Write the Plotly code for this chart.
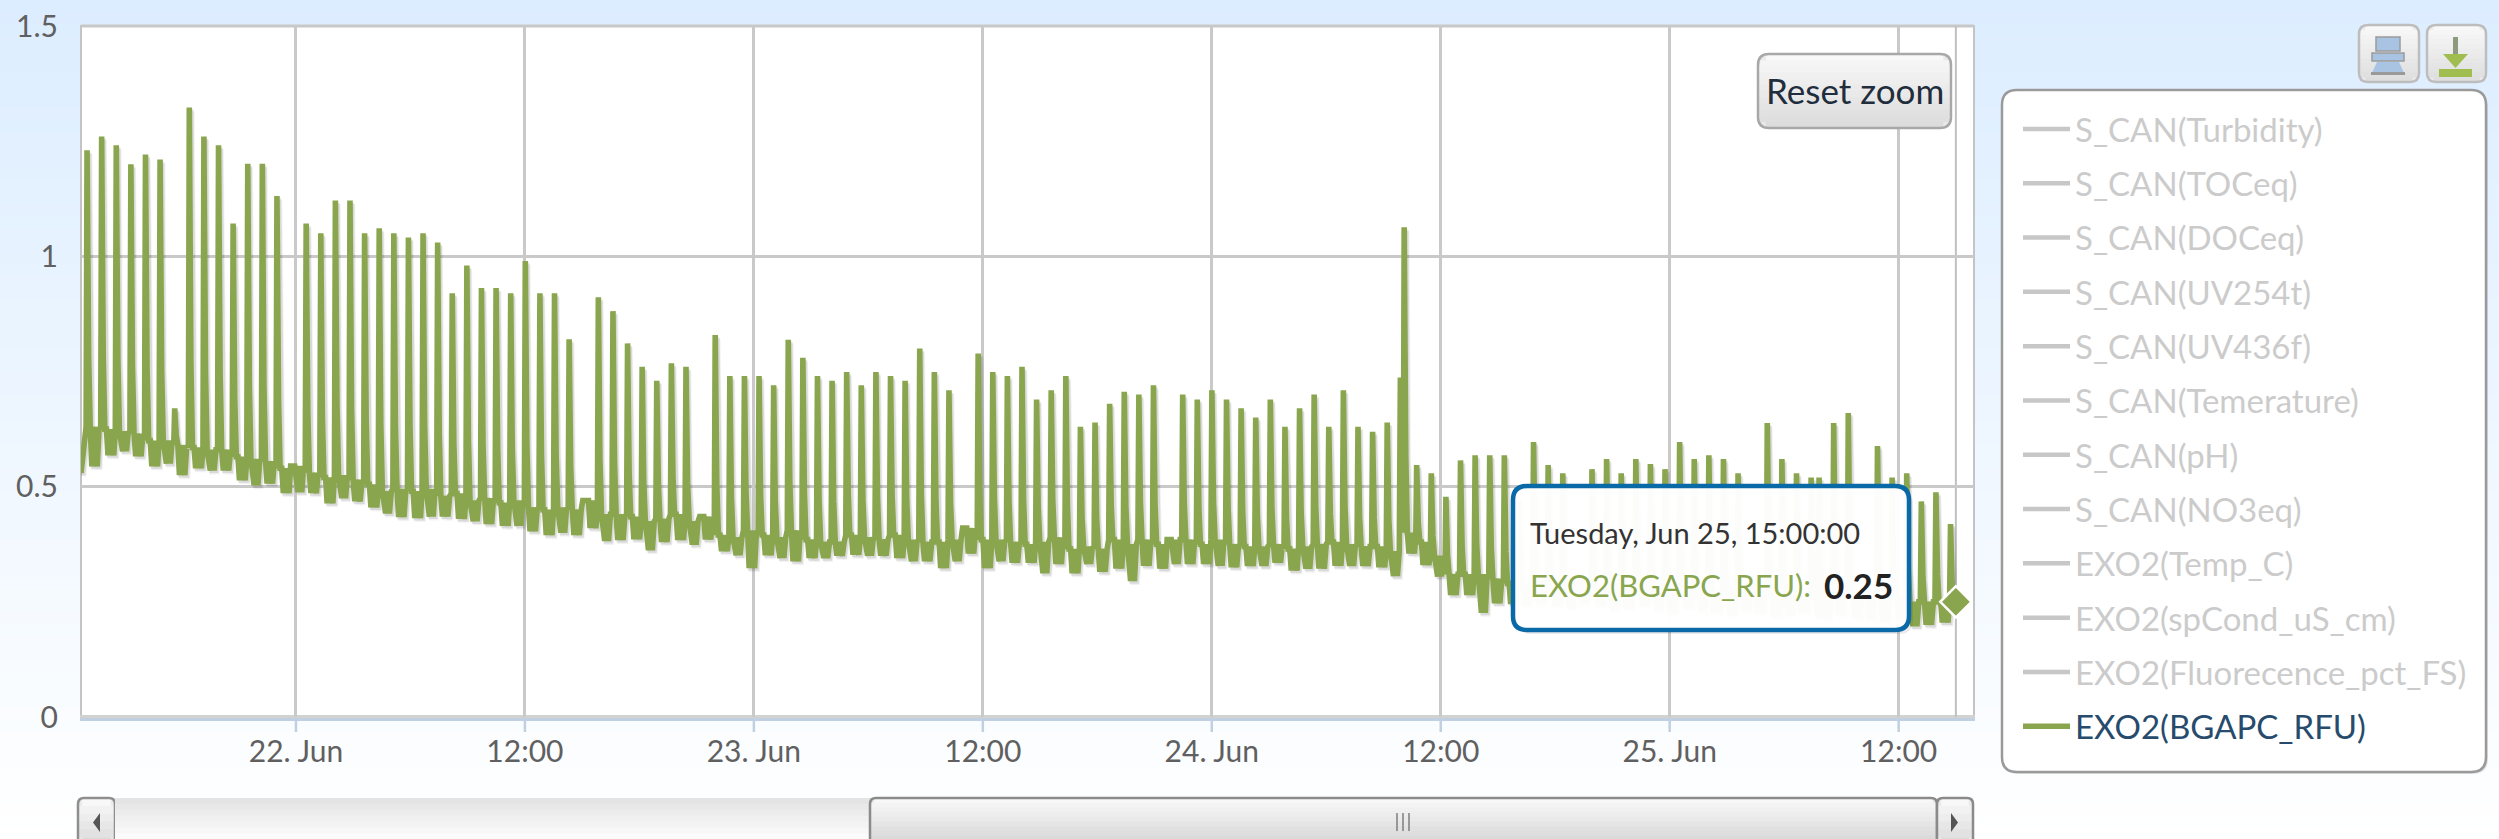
import pandas as pd
import plotly.graph_objects as go

W, H = 2499, 839
PLOT_L, PLOT_R, PLOT_T, PLOT_B = 81, 1974, 26, 717
GREEN = "#89A54E"
FONT = "Lato"

legend_names = ["S_CAN(Turbidity)", "S_CAN(TOCeq)", "S_CAN(DOCeq)", "S_CAN(UV254t)", "S_CAN(UV436f)",
                "S_CAN(Temerature)", "S_CAN(pH)", "S_CAN(NO3eq)", "EXO2(Temp_C)", "EXO2(spCond_uS_cm)",
                "EXO2(Fluorecence_pct_FS)", "EXO2(BGAPC_RFU)"]
y_ticks = [0, 0.5, 1, 1.5]
y_labels = ["0", "0.5", "1", "1.5"]
x_ticks = ["2013-06-22 00:00", "2013-06-22 12:00", "2013-06-23 00:00", "2013-06-23 12:00", "2013-06-24 00:00",
           "2013-06-24 12:00", "2013-06-25 00:00", "2013-06-25 12:00"]
x_labels = ["22. Jun", "12:00", "23. Jun", "12:00", "24. Jun", "12:00", "25. Jun", "12:00"]

# height of each roughly 46-minute spike (None = no spike in that cycle)
peaks = [1.230, 1.260, 1.241, 1.200, 1.221, 1.210, 0.670, 1.323, 1.260, 1.241, 1.071, 1.201, 1.201, 1.131, None,
         1.071, 1.050, 1.121, 1.121, 1.050, 1.061, 1.050, 1.041, 1.050, 1.030, 0.920, 0.980, 0.931, 0.931, 0.920,
         0.990, 0.920, 0.920, 0.820, 0.470, 0.911, 0.881, 0.811, 0.760, 0.730, 0.768, 0.760, None, 0.829, 0.740,
         0.740, 0.740, 0.720, 0.819, 0.780, 0.740, 0.730, 0.749, 0.720, 0.749, 0.740, 0.730, 0.800, 0.749, 0.709,
         None, 0.789, 0.749, 0.740, 0.760, 0.689, 0.709, 0.740, 0.630, 0.639, 0.680, 0.706, 0.700, 0.720, None,
         0.700, 0.689, 0.709, 0.689, 0.670, 0.650, 0.689, 0.630, 0.670, 0.700, 0.630, 0.709, 0.630, 0.619, 0.639,
         1.063, 0.547, 0.529, 0.478, 0.557, 0.568, 0.568, 0.568, 0.470, 0.597, 0.547, 0.529, None, 0.538, 0.560,
         0.529, 0.560, 0.549, 0.538, 0.597, 0.560, 0.568, 0.560, 0.529, None, 0.638, 0.560, 0.529, 0.520, 0.520,
         0.638, 0.660, None, 0.588, 0.520, 0.529, 0.468, 0.488, 0.419]
# upper edge of the noisy baseline in each cycle
base_high = [0.630, 0.625, 0.620, 0.615, 0.600, 0.600, 0.590, 0.585, 0.580, 0.580, 0.565, 0.560, 0.555, 0.540,
             0.545, 0.530, 0.520, 0.525, 0.515, 0.505, 0.490, 0.495, 0.490, 0.495, 0.480, 0.485, 0.470, 0.475,
             0.465, 0.470, 0.455, 0.450, 0.455, 0.450, 0.470, 0.440, 0.440, 0.435, 0.425, 0.430, 0.440, 0.425,
             0.435, 0.395, 0.390, 0.405, 0.395, 0.390, 0.405, 0.385, 0.380, 0.380, 0.395, 0.390, 0.385, 0.395,
             0.385, 0.380, 0.380, 0.385, 0.410, 0.385, 0.385, 0.380, 0.375, 0.380, 0.390, 0.365, 0.370, 0.365,
             0.385, 0.375, 0.385, 0.375, 0.385, 0.385, 0.375, 0.385, 0.375, 0.370, 0.370, 0.375, 0.365, 0.370,
             0.375, 0.380, 0.375, 0.370, 0.370, 0.360, 0.400, 0.380, 0.350, 0.310, 0.310, 0.310, 0.300, 0.290,
             0.290, 0.300, 0.290, 0.290, 0.300, 0.280, 0.290, 0.280, 0.290, 0.280, 0.270, 0.280, 0.270, 0.270,
             0.280, 0.270, 0.280, 0.270, 0.260, 0.270, 0.260, 0.260, 0.270, 0.260, 0.270, 0.260, 0.260, 0.250,
             0.250, 0.250, 0.250]
# lower edge of the noisy baseline in each cycle
base_low = [0.544, 0.568, 0.577, 0.566, 0.544, 0.550, 0.525, 0.540, 0.535, 0.535, 0.514, 0.503, 0.507, 0.486,
            0.488, 0.486, 0.464, 0.475, 0.468, 0.455, 0.442, 0.434, 0.432, 0.435, 0.435, 0.430, 0.425, 0.419,
            0.415, 0.415, 0.403, 0.395, 0.400, 0.395, 0.410, 0.382, 0.384, 0.386, 0.362, 0.380, 0.384, 0.374,
            0.385, 0.360, 0.351, 0.323, 0.351, 0.345, 0.338, 0.345, 0.345, 0.350, 0.352, 0.350, 0.350, 0.345,
            0.338, 0.338, 0.323, 0.338, 0.355, 0.323, 0.338, 0.335, 0.335, 0.312, 0.332, 0.312, 0.332, 0.315,
            0.322, 0.295, 0.328, 0.322, 0.332, 0.332, 0.332, 0.328, 0.325, 0.328, 0.328, 0.335, 0.318, 0.322,
            0.322, 0.328, 0.328, 0.328, 0.325, 0.306, 0.355, 0.330, 0.305, 0.265, 0.265, 0.226, 0.247, 0.245,
            0.240, 0.245, 0.240, 0.235, 0.245, 0.240, 0.230, 0.235, 0.240, 0.230, 0.225, 0.235, 0.230, 0.225,
            0.220, 0.230, 0.225, 0.215, 0.220, 0.225, 0.215, 0.210, 0.220, 0.215, 0.210, 0.205, 0.210, 0.197,
            0.200, 0.205, 0.210]
# minutes from one spike to the next (spike 0 has no predecessor)
cycle_gaps = [0.0] + [45.94] * 89 + [53.4, 39.3] + [45.94] * 27 + [25.0] + [45.94] * 9
shoulders = {90: 0.731}
first_spike = pd.Timestamp("2013-06-21 13:03")
start_time, start_value = pd.Timestamp("2013-06-21 12:44"), 0.53
hover_time, hover_value = pd.Timestamp("2013-06-25 15:00"), 0.25


def minutes(m):
    return pd.Timedelta(minutes=m)


xs, ys = [start_time], [start_value]
t = first_spike
for i, (p, hi, lo, gap) in enumerate(zip(peaks, base_high, base_low, cycle_gaps)):
    t = t + minutes(gap)
    if i in shoulders:
        xs += [t - minutes(12), t - minutes(11)]
        ys += [shoulders[i], shoulders[i]]
    top = hi if p is None else p
    xs += [t - minutes(3), t, t + minutes(5), t + minutes(10)]
    ys += [hi, top, hi + 0.25 * (top - hi), hi]
    if i < len(peaks) - 1:
        # the baseline wiggles between its two edges in a different order from cycle to cycle
        mid = (hi + lo) / 2
        order = [(lo, hi, mid, lo, hi), (hi, lo, hi, mid, lo), (mid, lo, hi, lo, hi)][i % 3]
        xs += [t + minutes(m) for m in (15, 20, 26, 32, 38)]
        ys += list(order)
xs.append(hover_time)
ys.append(hover_value)

fig = go.Figure()
for name in legend_names[:-1]:
    fig.add_trace(go.Scatter(x=[start_time], y=[0], name=f'<span style="color:#999999">{name}</span>', mode="lines",
                             visible="legendonly", legendgroup=name, line=dict(color="#909090", width=4.5)))
# drop shadow of the line
for dx, dy, op in [(5.0, 0.005, 0.10), (8.0, 0.008, 0.05)]:
    fig.add_trace(go.Scatter(x=[v + minutes(dx) for v in xs], y=[v - dy for v in ys], mode="lines",
                             showlegend=False, hoverinfo="skip",
                             line=dict(color=f"rgba(0,0,0,{op})", width=5.5)))
fig.add_trace(go.Scatter(x=xs, y=ys, name=legend_names[-1], legendgroup=legend_names[-1], mode="lines",
                         line=dict(color=GREEN, width=5.6, simplify=False), hoverinfo="skip"))
fig.add_trace(go.Scatter(x=[hover_time], y=[hover_value], mode="markers", showlegend=False, hoverinfo="skip",
                         marker=dict(symbol="diamond", size=24, color=GREEN, line=dict(color="white", width=2.5))))


def px(x):
    return x / W


def py(y):
    return 1 - y / H


def rect(x0, y0, x1, y1, fill=None, line=None, lw=0, layer="above"):
    s = dict(type="rect", xref="paper", yref="paper", x0=px(x0), x1=px(x1), y0=py(y0), y1=py(y1), layer=layer,
             line=dict(color=line or "rgba(0,0,0,0)", width=lw))
    if fill:
        s["fillcolor"] = fill
    return s


def rpath(x0, y0, x1, y1, r):
    pts = [(x0 + r, y0), (x1 - r, y0), (x1, y0, x1, y0 + r), (x1, y1 - r), (x1, y1, x1 - r, y1), (x0 + r, y1),
           (x0, y1, x0, y1 - r), (x0, y0 + r), (x0, y0, x0 + r, y0)]
    d = ""
    for k, q in enumerate(pts):
        if len(q) == 2:
            d += ("M" if k == 0 else "L") + f"{px(q[0]):.6f},{py(q[1]):.6f} "
        else:
            d += f"Q{px(q[0]):.6f},{py(q[1]):.6f} {px(q[2]):.6f},{py(q[3]):.6f} "
    return d + "Z"


def rounded(x0, y0, x1, y1, r, fill=None, line=None, lw=0, layer="above"):
    s = dict(type="path", xref="paper", yref="paper", path=rpath(x0, y0, x1, y1, r), layer=layer,
             line=dict(color=line or "rgba(0,0,0,0)", width=lw))
    if fill:
        s["fillcolor"] = fill
    return s


def poly(points, fill):
    d = "M" + " L".join(f"{px(a):.6f},{py(b):.6f}" for a, b in points) + " Z"
    return dict(type="path", xref="paper", yref="paper", path=d, fillcolor=fill, layer="above",
                line=dict(color="rgba(0,0,0,0)", width=0))


def mix(c0, c1, f):
    return "rgb(" + ",".join(str(round(a + (b - a) * f)) for a, b in zip(c0, c1)) + ")"


def gradient_box(x0, y0, x1, y1, r, c0, c1, line, lw, n=12):
    out = [rounded(x0, y0, x1, y1, r, fill=mix(c0, c1, 0.5))]
    for k in range(n):
        a = y0 + (y1 - y0) * k / n
        b = y0 + (y1 - y0) * (k + 1) / n + 0.5
        inset = r * 0.7 if k in (0, n - 1) else (r * 0.2 if k in (1, n - 2) else 0)
        out.append(rect(x0 + inset, a, x1 - inset, b, fill=mix(c0, c1, k / (n - 1))))
    out.append(rounded(x0, y0, x1, y1, r, line=line, lw=lw))
    return out


shapes = []
# page gradient
steps = 70
for k in range(steps):
    shapes.append(rect(0, H * k / steps, W, H * (k + 1) / steps + 1,
                       fill=mix((220, 237, 255), (255, 255, 255), k / (steps - 1)), layer="below"))
shapes.append(rect(PLOT_L, PLOT_T, PLOT_R, PLOT_B, fill="white", layer="below"))
# plot frame
shapes.append(rect(PLOT_L, PLOT_T, PLOT_R, PLOT_B, line="#C4C4C4", lw=2, layer="between"))
shapes.append(rect(PLOT_L, PLOT_T - 1.5, PLOT_R, PLOT_T + 1.5, fill="#C8C8C8", layer="between"))
shapes.append(rect(PLOT_L - 1, PLOT_B - 2, PLOT_R + 1, PLOT_B + 1, fill="#D2D2D2", layer="between"))
shapes.append(rect(PLOT_L - 1, PLOT_B + 1, PLOT_R + 1, PLOT_B + 4, fill="#C0D0E0", layer="between"))
# crosshair at the hovered time
shapes.append(dict(type="line", xref="x", yref="paper", x0=hover_time, x1=hover_time, y0=py(PLOT_B), y1=py(PLOT_T),
                   layer="between", line=dict(color="#C0C0C0", width=2)))
# tick marks
for tv in x_ticks:
    shapes.append(dict(type="line", xref="x", yref="paper", x0=tv, x1=tv, y0=py(PLOT_B + 3), y1=py(732),
                       layer="between", line=dict(color="#C0D0E0", width=2.5)))

# tooltip
shapes.append(rounded(1517, 490, 1913, 634, 14, fill="rgba(0,0,0,0.08)"))
shapes.append(rounded(1513, 486, 1909, 630, 14, fill="rgba(255,255,255,0.98)", line="#0A6AA8", lw=4.5))

# reset button
shapes += gradient_box(1758, 54, 1951, 128, 11, (248, 248, 248), (220, 220, 220), "#A8A8A8", 2.5)

# legend box
shapes.append(rounded(2003, 92, 2488, 774, 15, fill="rgba(0,0,0,0.10)", layer="below"))
shapes.append(rounded(2002, 90, 2486, 772, 15, fill="white", line="#9A9A9A", lw=2.5, layer="below"))

# print and export buttons
shapes += gradient_box(2359, 25, 2419, 82, 9, (248, 248, 248), (222, 222, 222), "#BDBDBD", 2.5)
shapes += gradient_box(2427, 25, 2486, 82, 9, (248, 248, 248), (222, 222, 222), "#BDBDBD", 2.5)
shapes.append(rect(2376, 37, 2400, 51, fill="#A9C4E2", line="#9A9A9A", lw=1.5))
shapes.append(rect(2372, 53, 2404, 61, fill="#A9C4E2", line="#9A9A9A", lw=1.5))
shapes.append(poly([(2377, 62), (2399, 62), (2405, 75), (2371, 75)], "#A9C4E2"))
shapes.append(rect(2371, 72, 2405, 75, fill="#9A9A9A"))
shapes.append(rect(2453, 37, 2458, 56, fill="#8E9A7E"))
shapes.append(poly([(2443, 54), (2468, 54), (2455.5, 68)], "#9FBE4F"))
shapes.append(rect(2439, 69, 2472, 77, fill="#9FBE4F"))

# scrollbar
shapes += gradient_box(78, 798, 115, 845, 6, (248, 248, 248), (220, 220, 220), "#8E8E8E", 2.5, n=6)
shapes += gradient_box(115, 798, 871, 845, 0, (228, 228, 228), (255, 255, 255), None, 0, n=8)
shapes += gradient_box(870, 798, 1937, 845, 6, (248, 248, 248), (214, 214, 214), "#8A8A8A", 2.5, n=10)
shapes += gradient_box(1937, 798, 1973, 845, 6, (248, 248, 248), (220, 220, 220), "#8A8A8A", 2.5, n=6)
for gx in (1397, 1403, 1409):
    shapes.append(rect(gx - 0.7, 813, gx + 0.7, 831, fill="#777777"))
shapes.append(poly([(100, 813), (100, 832), (93, 822.5)], "#555555"))
shapes.append(poly([(1951, 813), (1951, 832), (1958, 822.5)], "#555555"))


def note(text, x, y, size, color, anchor="left", bold=False):
    label = f"<b>{text}</b>" if bold else text
    return dict(text=label, xref="paper", yref="paper", x=px(x), y=py(y), xanchor=anchor, yanchor="middle",
                showarrow=False, font=dict(family=FONT, size=size, color=color))


annotations = [
    note("Reset zoom", 1855, 90, 35, "#1F2D3D", "center"),
    note("Tuesday, Jun 25, 15:00:00", 1528, 532, 29, "#333333"),
    note("EXO2(BGAPC_RFU):", 1528, 585, 31, GREEN),
    note("0.25", 1895, 585, 35, "#222222", "right", True),
]

fig.update_layout(
    width=W, height=H, margin=dict(l=0, r=0, t=0, b=0, pad=0, autoexpand=False),
    paper_bgcolor="white", plot_bgcolor="rgba(0,0,0,0)",
    font=dict(family=FONT, color="#606060", size=30),
    shapes=shapes, annotations=annotations,
    showlegend=True,
    legend=dict(x=px(2018), y=py(101), xanchor="left", yanchor="top", bgcolor="rgba(0,0,0,0)", borderwidth=0,
                font=dict(family=FONT, size=33, color="#274B6D"), itemwidth=47, tracegroupgap=8.4,
                itemclick=False, itemdoubleclick=False, traceorder="grouped"),
    xaxis=dict(domain=[px(PLOT_L), px(PLOT_R)], range=["2013-06-21 12:44", "2013-06-25 15:57"], type="date",
               tickmode="array", tickvals=x_ticks, ticktext=x_labels, showgrid=True, gridcolor="#C9C9C9", gridwidth=2.5,
               zeroline=False, showline=False, ticks="", ticklabelstandoff=14,
               tickfont=dict(family=FONT, size=30, color="#606060")),
    yaxis=dict(domain=[py(PLOT_B), py(PLOT_T)], range=[0, 1.5], tickmode="array", tickvals=y_ticks, ticktext=y_labels,
               showgrid=True, gridcolor="#C9C9C9", gridwidth=2.5, zeroline=False, showline=False, ticks="",
               ticklabelstandoff=22, tickfont=dict(family=FONT, size=30, color="#606060")),
)

fig.write_html("out.html", config=dict(displayModeBar=False),
               post_script="document.body.style.margin='0';document.body.style.overflow='hidden';")
